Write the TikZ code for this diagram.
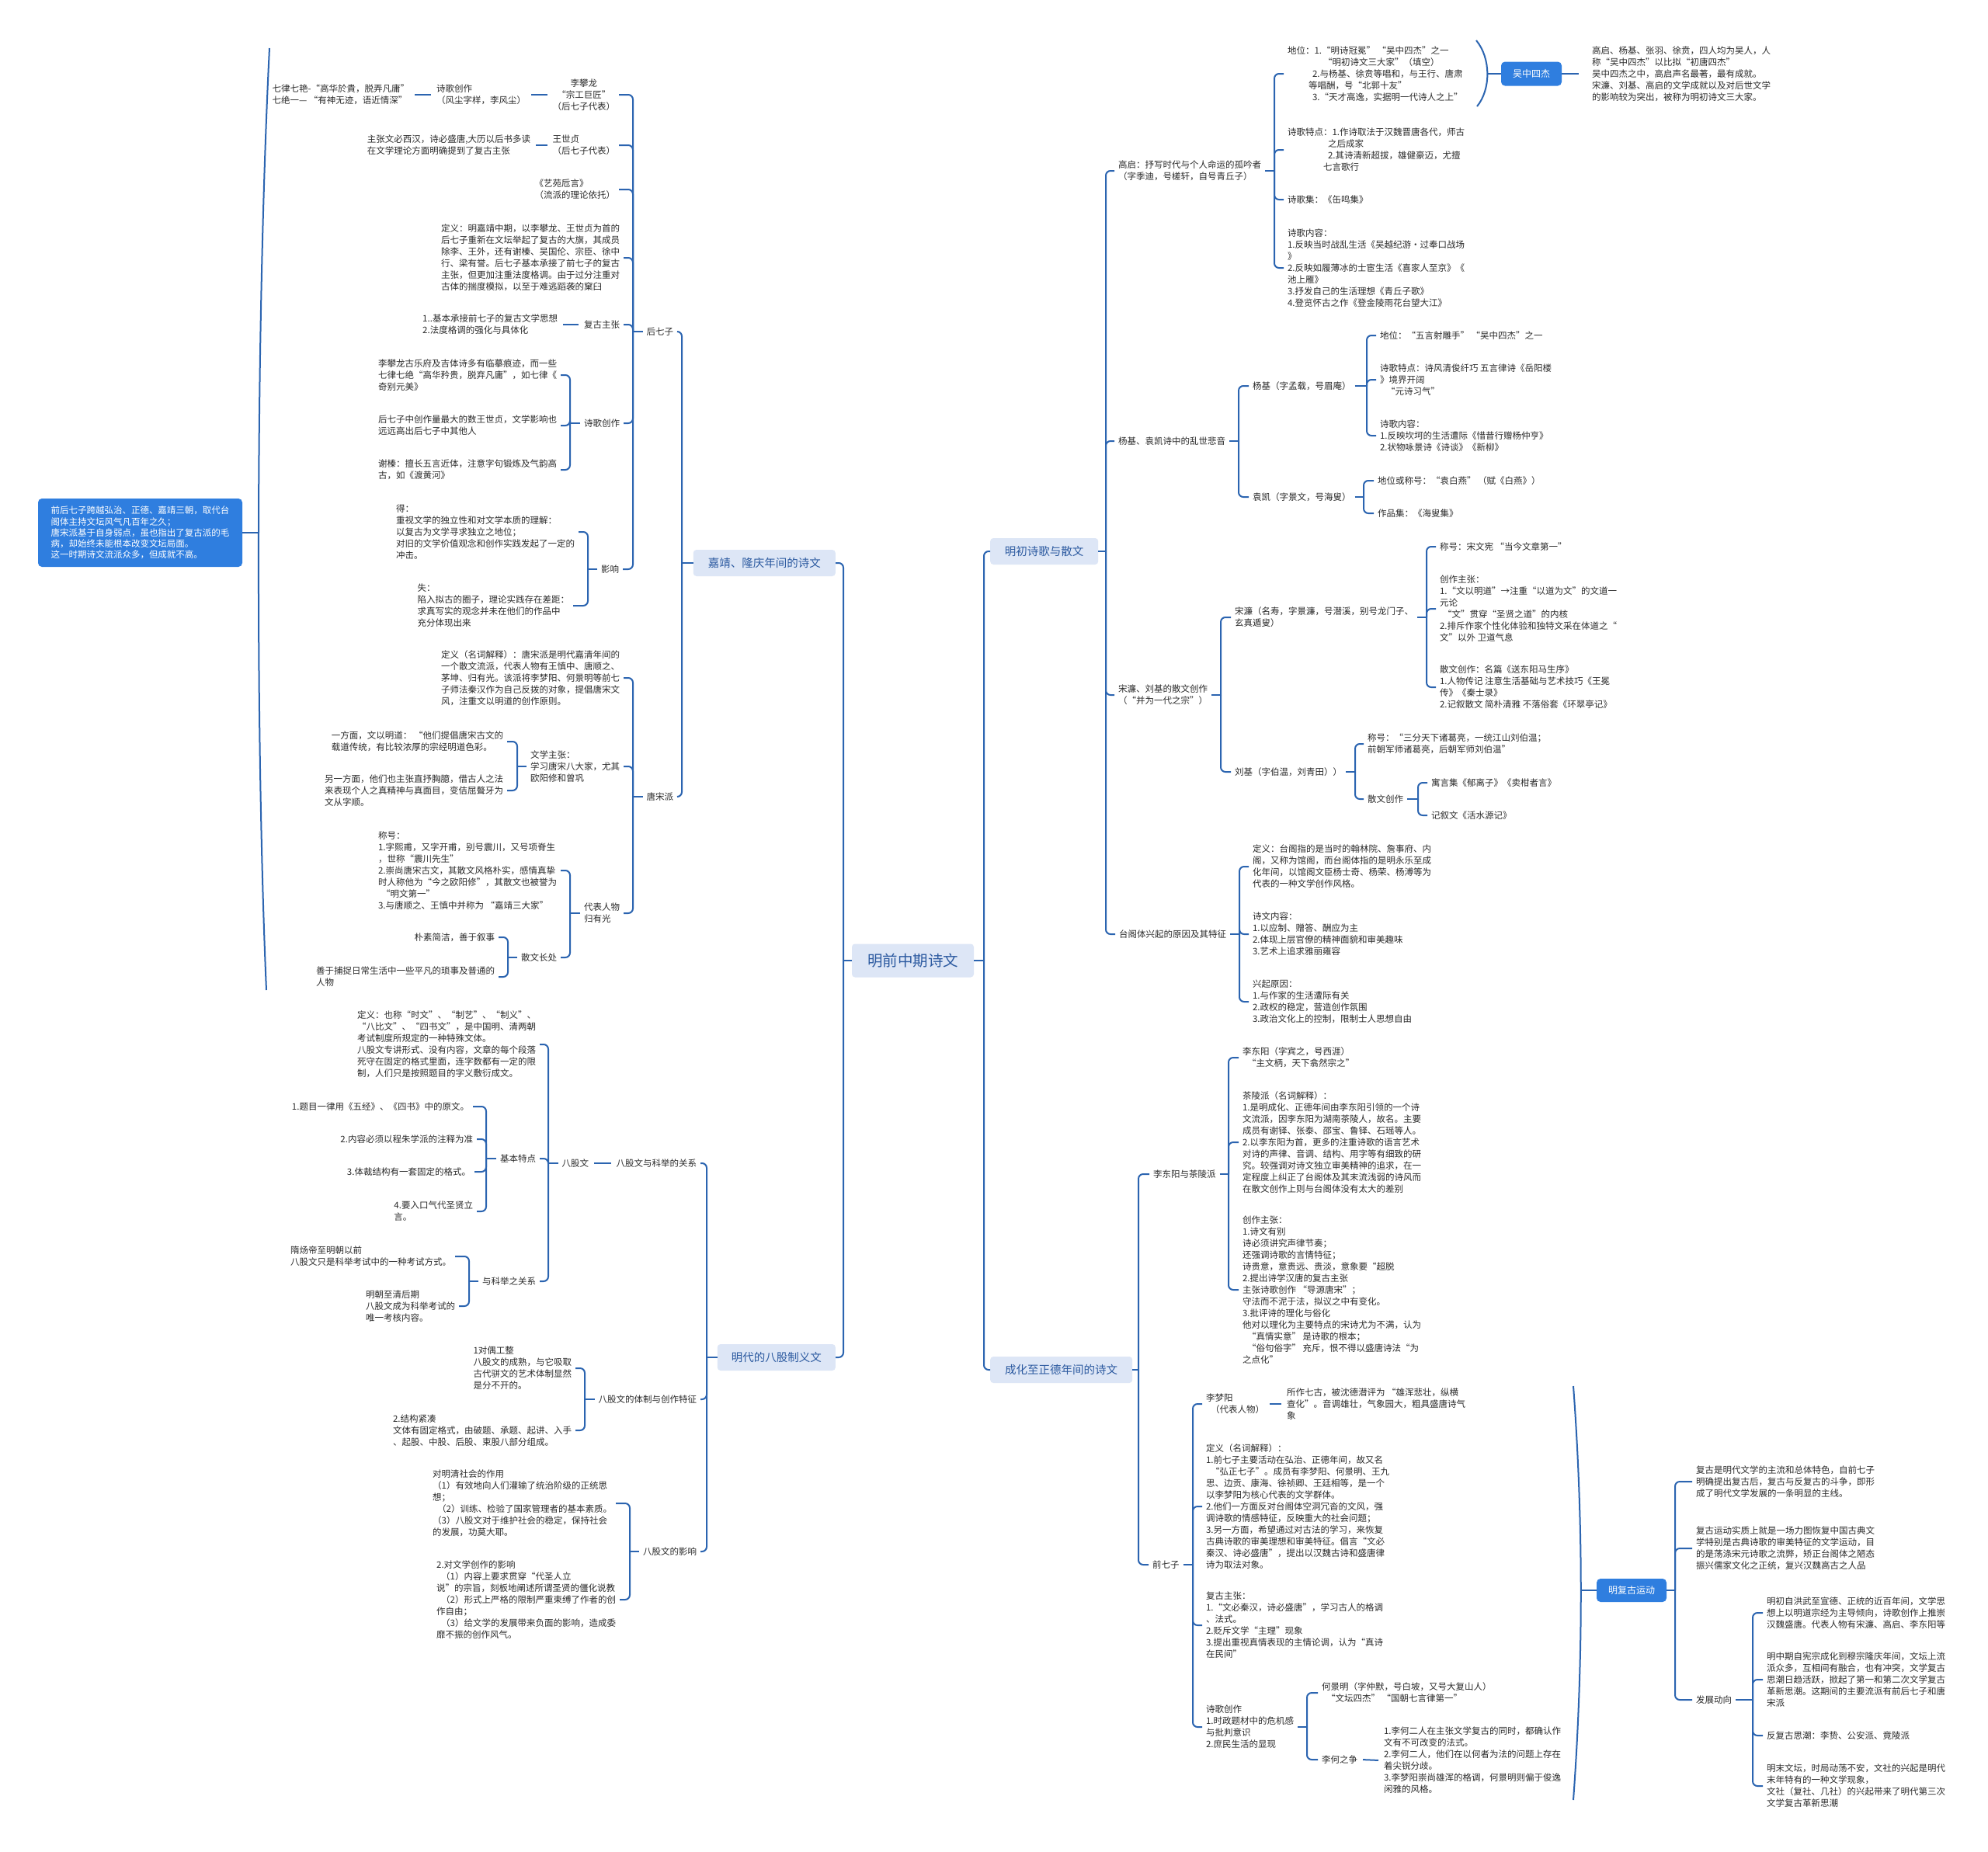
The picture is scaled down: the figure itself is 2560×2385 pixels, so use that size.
\documentclass[tikz,border=0pt]{standalone}
\usepackage{fontspec}
\setmainfont{Noto Sans CJK SC}
\newcommand{\ftx}{\fontsize{11.5}{15}\selectfont}
\definecolor{lc}{HTML}{2B64B0}
\definecolor{tc}{HTML}{2A2A2A}
\definecolor{lfill}{HTML}{DDE6F6}
\definecolor{ltext}{HTML}{2C5AA0}
\definecolor{sfill}{HTML}{2F7EDF}
\tikzset{
 conn/.style={draw=lc, line width=2pt},
 link/.style={conn, shorten <=2pt, shorten >=2pt},
 tx/.style={font=\ftx, text=tc, inner sep=0pt, outer xsep=5pt, outer ysep=0pt, align=left},
 txc/.style={tx, align=center},
 lone/.style={fill=lfill, rounded corners=4pt, text=ltext, font=\fontsize{14.5}{17}\selectfont, inner sep=0pt, minimum height=34pt},
 sbox/.style={fill=sfill, rounded corners=5pt, text=white, font=\fontsize{12}{15}\selectfont, inner sep=0pt},
}
\newcommand{\brL}[3]{%
  \coordinate (tmpS) at (#2,0);
  \draw[conn] (#1.west) -- (#1.west -| tmpS);
  \foreach \cn in {#3}{\draw[conn,rounded corners=6pt] (#1.west -| tmpS) |- (\cn.east);}%
}
\newcommand{\brR}[3]{%
  \coordinate (tmpS) at (#2,0);
  \draw[conn] (#1.east) -- (#1.east -| tmpS);
  \foreach \cn in {#3}{\draw[conn,rounded corners=6pt] (#1.east -| tmpS) |- (\cn.west);}%
}
\begin{document}
\begin{tikzpicture}[x=1pt,y=-1pt]
\useasboundingbox (0,0) rectangle (2560,2385);
\fill[white] (0,0) rectangle (2560,2385);
% ---------- centre and level one
\node[lone, minimum width=157pt, minimum height=43pt, font=\fontsize{19.5}{22}\selectfont] (C) at (1175.5,1237) {明前中期诗文};
\node[lone, anchor=east, minimum width=183pt] (LA) at (1076,725) {嘉靖、隆庆年间的诗文};
\node[lone, anchor=east, minimum width=152pt] (LB) at (1076,1748) {明代的八股制义文};
\node[lone, anchor=west, minimum width=139pt] (RA) at (1275,710) {明初诗歌与散文};
\node[lone, anchor=west, minimum width=183pt] (RB) at (1275,1764) {成化至正德年间的诗文};
\brL{C}{1086}{LA,LB}
\brR{C}{1267}{RA,RB}
% ---------- left A
\node[tx,anchor=east] (HQZ) at (872,427) {后七子};
\node[tx,anchor=east] (TSP) at (872,1026) {唐宋派};
\brL{LA}{878}{HQZ,TSP}
\node[txc,anchor=east] (H1) at (797,122) {李攀龙\\“宗工巨匠”\\（后七子代表）};
\node[tx,anchor=east] (H1a) at (682,122) {诗歌创作\\（风尘字样，李风尘）};
\node[tx,anchor=east] (H1b) at (532,122) {七律七艳-“高华於貴，脱弄凡庸”\\七绝一— “有神无迹，语近情深”};
\draw[link] (H1a.east) -- (H1.west);
\draw[link] (H1b.east) -- (H1a.west);
\node[tx,anchor=east] (H2) at (797,187) {王世贞\\（后七子代表）};
\node[tx,anchor=east] (H2a) at (688,187) {主张文必西汉，诗必盛唐,大历以后书多读\\在文学理论方面明确提到了复古主张};
\draw[link] (H2a.east) -- (H2.west);
\node[tx,anchor=east] (H3) at (797,244) {《艺苑卮言》\\（流派的理论依托）};
\node[tx,anchor=east] (H4) at (803,332) {定义：明嘉靖中期，以李攀龙、王世贞为首的\\后七子重新在文坛举起了复古的大旗，其成员\\除李、王外，还有谢榛、吴国伦、宗臣、徐中\\行、梁有誉。后七子基本承接了前七子的复古\\主张，但更加注重法度格调。由于过分注重对\\古体的揣度模拟，以至于难逃蹈袭的窠臼};
\node[tx,anchor=east] (H5) at (803,418) {复古主张};
\node[tx,anchor=east] (H5a) at (723,418) {1..基本承接前七子的复古文学思想\\2.法度格调的强化与具体化};
\draw[link] (H5a.east) -- (H5.west);
\node[tx,anchor=east] (H6) at (803,545) {诗歌创作};
\node[tx,anchor=east] (H6a) at (722,483) {李攀龙古乐府及吉体诗多有临摹痕迹，而一些\\七律七绝“高华矜贵，脱弃凡庸”，如七律《\\奇别元美》};
\node[tx,anchor=east] (H6b) at (722,548) {后七子中创作量最大的数王世贞，文学影响也\\远远高出后七子中其他人};
\node[tx,anchor=east] (H6c) at (722,605) {谢榛：擅长五言近体，注意字句锻炼及气韵高\\古，如《渡黄河》};
\brL{H6}{734}{H6a,H6b,H6c}
\node[tx,anchor=east] (H7) at (802,733) {影响};
\node[tx,anchor=east] (H7a) at (745,685) {得：\\重视文学的独立性和对文学本质的理解：\\以复古为文学寻求独立之地位；\\对旧的文学价值观念和创作实践发起了一定的\\冲击。};
\node[tx,anchor=east] (H7b) at (738,780) {失：\\陷入拟古的圈子，理论实践存在差距：\\求真写实的观念并未在他们的作品中\\充分体现出来};
\brL{H7}{757}{H7a,H7b}
\brL{HQZ}{815}{H1,H2,H3,H4,H5,H6,H7}
% 唐宋派
\node[tx,anchor=east] (T1) at (803,873) {定义（名词解释）：唐宋派是明代嘉清年间的\\一个散文流派，代表人物有王慎中、唐顺之、\\茅坤、归有光。该派将李梦阳、何景明等前七\\子师法秦汉作为自己反拨的对象，提倡唐宋文\\风，注重文以明道的创作原则。};
\node[tx,anchor=east] (T2) at (803,987) {文学主张：\\学习唐宋八大家，尤其\\欧阳修和曾巩};
\node[tx,anchor=east] (T2a) at (653,955) {一方面，文以明道： “他们提倡唐宋古文的\\载道传统，有比较浓厚的宗经明道色彩。};
\node[tx,anchor=east] (T2b) at (653,1018) {另一方面，他们也主张直抒胸臆，借古人之法\\来表现个人之真精神与真面目，变佶屈聱牙为\\文从字顺。};
\brL{T2}{666}{T2a,T2b}
\node[tx,anchor=east] (T3) at (803,1176) {代表人物\\归有光};
\node[tx,anchor=east] (T3a) at (722,1121) {称号：\\1.字熙甫，又字开甫，别号震川，又号项脊生\\，世称“震川先生”\\2.崇尚唐宋古文，其散文风格朴实，感情真挚\\时人称他为“今之欧阳修”，其散文也被誉为\\\hspace*{4pt}“明文第一”\\3.与唐顺之、王慎中并称为 “嘉靖三大家”};
\node[tx,anchor=east] (T3b) at (722,1233) {散文长处};
\node[tx,anchor=east] (T3b1) at (642,1207) {朴素简洁，善于叙事};
\node[tx,anchor=east] (T3b2) at (642,1258) {善于捕捉日常生活中一些平凡的琐事及普通的\\人物};
\brL{T3b}{654}{T3b1,T3b2}
\brL{T3}{734}{T3a,T3b}
\brL{TSP}{815}{T1,T2,T3}
% summary left
\node[sbox, minimum width=263pt, minimum height=88pt, align=left, font=\fontsize{11.5}{14.2}\selectfont] (SUM) at (180.5,686) {前后七子跨越弘治、正德、嘉靖三朝，取代台\\阁体主持文坛风气凡百年之久；\\唐宋派基于自身弱点，虽也指出了复古派的毛\\病，却始终未能根本改变文坛局面。\\这一时期诗文流派众多，但成就不高。};
\coordinate (lbT) at (347,62);
\coordinate (lbB) at (343,1275);
\coordinate (lbM) at (333,686);
\draw[conn] (lbT) .. controls (329,425) and (329,955) .. (lbB);
\draw[conn] (SUM.east) -- (lbM);
% ---------- left B
\node[tx,anchor=east] (B1) at (902,1498) {八股文与科举的关系};
\node[tx,anchor=east] (B1a) at (763,1498) {八股文};
\draw[link] (B1a.east) -- (B1.west);
\node[tx,anchor=east] (B11) at (695,1345) {定义：也称“时文”、“制艺”、“制义”、\\“八比文”、“四书文”，是中国明、清两朝\\考试制度所规定的一种特殊文体。\\八股文专讲形式、没有内容，文章的每个段落\\死守在固定的格式里面，连字数都有一定的限\\制，人们只是按照题目的字义敷衍成文。};
\node[tx,anchor=east] (B12) at (695,1492) {基本特点};
\node[tx,anchor=east] (B121) at (609,1425) {1.题目一律用《五经》、《四书》中的原文。};
\node[tx,anchor=east] (B122) at (614,1467) {2.内容必须以程朱学派的注释为准};
\node[tx,anchor=east] (B123) at (611,1509) {3.体裁结构有一套固定的格式。};
\node[tx,anchor=east] (B124) at (614,1560) {4.要入口气代圣贤立\\言。};
\brL{B12}{626}{B121,B122,B123,B124}
\node[tx,anchor=east] (B13) at (695,1650) {与科举之关系};
\node[tx,anchor=east] (B131) at (586,1618) {隋炀帝至明朝以前\\八股文只是科举考试中的一种考试方式。};
\node[tx,anchor=east] (B132) at (591,1682) {明朝至清后期\\八股文成为科举考试的\\唯一考核内容。};
\brL{B13}{604}{B131,B132}
\brL{B1a}{706}{B11,B12,B13}
\node[tx,anchor=east] (B2) at (902,1802) {八股文的体制与创作特征};
\node[tx,anchor=east] (B21) at (741,1762) {1对偶工整\\八股文的成熟，与它吸取\\古代骈文的艺术体制显然\\是分不开的。};
\node[tx,anchor=east] (B22) at (741,1842) {2.结构紧凑\\文体有固定格式，由破题、承题、起讲、入手\\、起股、中股、后股、束股八部分组成。};
\brL{B2}{753}{B21,B22}
\node[tx,anchor=east] (B3) at (902,1998) {八股文的影响};
\node[tx,anchor=east] (B31) at (793,1936) {对明清社会的作用\\（1）有效地向人们灌输了统治阶级的正统思\\想；\\\hspace*{6pt}（2）训练、检验了国家管理者的基本素质。\\（3）八股文对于维护社会的稳定，保持社会\\的发展，功莫大耶。};
\node[tx,anchor=east] (B32) at (798,2060) {2.对文学创作的影响\\\hspace*{6pt}（1）内容上要求贯穿“代圣人立\\说”的宗旨，刻板地阐述所谓圣贤的僵化说教\\\hspace*{6pt}（2）形式上严格的限制严重束缚了作者的创\\作自由；\\\hspace*{6pt}（3）给文学的发展带来负面的影响，造成委\\靡不振的创作风气。};
\brL{B3}{811}{B31,B32}
\brL{LB}{910}{B1,B2,B3}
% ---------- right A
\node[tx,anchor=west] (G) at (1435,220) {高启：抒写时代与个人命运的孤吟者\\（字季迪，号槎轩，自号青丘子）};
\node[tx,anchor=west] (G1) at (1653,95) {地位：1.“明诗冠冕” “吴中四杰”之一\\\hspace*{46pt}“明初诗文三大家”（填空）\\\hspace*{32pt}2.与杨基、徐贲等唱和，与王行、唐肃\\\hspace*{27pt}等唱酬，号“北郭十友”\\\hspace*{32pt}3.“天才高逸，实据明一代诗人之上”};
\node[tx,anchor=west] (G2) at (1653,193) {诗歌特点：1.作诗取法于汉魏晋唐各代，师古\\\hspace*{52pt}之后成家\\\hspace*{52pt}2.其诗清新超拔，雄健豪迈，尤擅\\\hspace*{46pt}七言歌行};
\node[tx,anchor=west] (G3) at (1653,257) {诗歌集：《缶鸣集》};
\node[tx,anchor=west] (G4) at (1653,345) {诗歌内容：\\1.反映当时战乱生活《吴越纪游·过奉口战场\\》\\2.反映如履薄冰的士宦生活《喜家人至京》《\\池上雁》\\3.抒发自己的生活理想《青丘子歌》\\4.登览怀古之作《登金陵雨花台望大江》};
\brR{G}{1641}{G1,G2,G3,G4}
\node[sbox, minimum width=78pt, minimum height=31pt] (WZ) at (1972,95) {吴中四杰};
\coordinate (dwT) at (1901,52);
\coordinate (dwB) at (1902,137);
\coordinate (dwM) at (1915,95);
\draw[conn] (dwT) .. controls (1920,75) and (1920,115) .. (dwB);
\draw[conn] (dwM) -- (WZ.west);
\node[tx,anchor=west] (WZT) at (2045,95) {高启、杨基、张羽、徐贲，四人均为吴人，人\\称“吴中四杰”以比拟“初唐四杰”\\吴中四杰之中，高启声名最著，最有成就。\\宋濂、刘基、高启的文学成就以及对后世文学\\的影响较为突出，被称为明初诗文三大家。};
\draw[conn] (WZ.east) -- ([xshift=-12pt]WZT.west);
\node[tx,anchor=west] (Y) at (1435,568) {杨基、袁凯诗中的乱世悲音};
\node[tx,anchor=west] (Y1) at (1608,497) {杨基（字孟载，号眉庵）};
\node[tx,anchor=west] (Y11) at (1772,432) {地位：“五言射雕手” “吴中四杰”之一};
\node[tx,anchor=west] (Y12) at (1772,489) {诗歌特点：诗风清俊纤巧 五言律诗《岳阳楼\\》境界开阔\\\hspace*{8pt}“元诗习气”};
\node[tx,anchor=west] (Y13) at (1772,561) {诗歌内容：\\1.反映坎坷的生活遭际《惜昔行赠杨仲亨》\\2.状物咏景诗《诗谈》《新柳》};
\brR{Y1}{1760}{Y11,Y12,Y13}
\node[tx,anchor=west] (Y2) at (1608,640) {袁凯（字景文，号海叟）};
\node[tx,anchor=west] (Y21) at (1769,619) {地位或称号：“袁白燕” （赋《白燕》）};
\node[tx,anchor=west] (Y22) at (1769,661) {作品集：《海叟集》};
\brR{Y2}{1756}{Y21,Y22}
\brR{Y}{1595}{Y1,Y2}
\node[txc,anchor=west] (S) at (1435,895) {宋濂、刘基的散文创作\\（“并为一代之宗”）};
\node[tx,anchor=west] (S1) at (1585,795) {宋濂（名寿，字景濂，号潜溪，别号龙门子、\\玄真遁叟）};
\node[tx,anchor=west] (S11) at (1849,704) {称号：宋文宪 “当今文章第一”};
\node[tx,anchor=west] (S12) at (1849,784) {创作主张：\\1.“文以明道”→注重“以道为文”的文道一\\元论\\\hspace*{4pt}“文”贯穿“圣贤之道”的内核\\2.排斥作家个性化体验和独特文采在体道之“\\文”以外 卫道气息};
\node[tx,anchor=west] (S13) at (1849,885) {散文创作：名篇《送东阳马生序》\\1.人物传记 注意生活基础与艺术技巧《王冕\\传》《秦士录》\\2.记叙散文 简朴清雅 不落俗套《环翠亭记》};
\brR{S1}{1837}{S11,S12,S13}
\node[tx,anchor=west] (S2) at (1585,994) {刘基（字伯温，刘青田））};
\node[tx,anchor=west] (S21) at (1756,958) {称号：“三分天下诸葛亮，一统江山刘伯温；\\前朝军师诸葛亮，后朝军师刘伯温”};
\node[tx,anchor=west] (S22) at (1756,1029) {散文创作};
\node[tx,anchor=west] (S221) at (1838,1008) {寓言集《郁离子》《卖柑者言》};
\node[tx,anchor=west] (S222) at (1838,1050) {记叙文《活水源记》};
\brR{S22}{1826}{S221,S222}
\brR{S2}{1745}{S21,S22}
\brR{S}{1572}{S1,S2}
\node[tx,anchor=west] (TG) at (1436,1203) {台阁体兴起的原因及其特征};
\node[tx,anchor=west] (TG1) at (1608,1116) {定义：台阁指的是当时的翰林院、詹事府、内\\阁，又称为馆阁，而台阁体指的是明永乐至成\\化年间，以馆阁文臣杨士奇、杨荣、杨溥等为\\代表的一种文学创作风格。};
\node[tx,anchor=west] (TG2) at (1608,1203) {诗文内容：\\1.以应制、赠答、酬应为主\\2.体现上层官僚的精神面貌和审美趣味\\3.艺术上追求雅丽雍容};
\node[tx,anchor=west] (TG3) at (1608,1290) {兴起原因：\\1.与作家的生活遭际有关\\2.政权的稳定，营造创作氛围\\3.政治文化上的控制，限制士人思想自由};
\brR{TG}{1596}{TG1,TG2,TG3}
\brR{RA}{1424}{G,Y,S,TG}
% ---------- right B
\node[tx,anchor=west] (CL) at (1480,1512) {李东阳与茶陵派};
\node[tx,anchor=west] (CL1) at (1595,1362) {李东阳（字宾之，号西涯）\\\hspace*{6pt}“主文柄，天下翕然宗之”};
\node[tx,anchor=west] (CL2) at (1595,1471) {茶陵派（名词解释）：\\1.是明成化、正德年间由李东阳引领的一个诗\\文流派，因李东阳为湖南茶陵人，故名。主要\\成员有谢铎、张泰、邵宝、鲁铎、石瑶等人。\\2.以李东阳为首，更多的注重诗歌的语言艺术\\对诗的声律、音调、结构、用字等有细致的研\\究。较强调对诗文独立审美精神的追求，在一\\定程度上纠正了台阁体及其末流浅弱的诗风而\\在散文创作上则与台阁体没有太大的差别};
\node[tx,anchor=west] (CL3) at (1595,1661) {创作主张：\\1.诗文有别\\诗必须讲究声律节奏；\\还强调诗歌的言情特征；\\诗贵意，意贵远、贵淡，意象要“超脱\\2.提出诗学汉唐的复古主张\\主张诗歌创作 “导源唐宋”；\\守法而不泥于法，拟议之中有变化。\\3.批评诗的理化与俗化\\他对以理化为主要特点的宋诗尤为不满，认为\\\hspace*{6pt}“真情实意” 是诗歌的根本；\\\hspace*{6pt}“俗句俗字” 充斥，恨不得以盛唐诗法“为\\之点化”};
\brR{CL}{1582}{CL1,CL2,CL3}
\node[tx,anchor=west] (QZ) at (1479,2015) {前七子};
\node[tx,anchor=west] (Q1) at (1548,1808) {李梦阳\\\hspace*{6pt}（代表人物）};
\node[tx,anchor=west] (Q1t) at (1652,1808) {所作七古，被沈德潜评为 “雄浑悲壮，纵横\\查化”。音调雄壮，气象园大，粗具盛唐诗气\\象};
\draw[link] (Q1.east) -- (Q1t.west);
\node[tx,anchor=west] (Q2) at (1548,1940) {定义（名词解释）：\\1.前七子主要活动在弘治、正德年间，故又名\\\hspace*{6pt}“弘正七子”。成员有李梦阳、何景明、王九\\思、边贡、康海、徐祯卿、王廷相等，是一个\\以李梦阳为核心代表的文学群体。\\2.他们一方面反对台阁体空洞冗沓的文风，强\\调诗歌的情感特征，反映重大的社会问题；\\3.另一方面，希望通过对古法的学习，来恢复\\古典诗歌的审美理想和审美特征。倡言“文必\\秦汉、诗必盛唐”，提出以汉魏古诗和盛唐律\\诗为取法对象。};
\node[tx,anchor=west] (Q3) at (1548,2093) {复古主张：\\1.“文必秦汉，诗必盛唐”，学习古人的格调\\、法式。\\2.贬斥文学“主理”现象\\3.提出重视真情表现的主情论调，认为“真诗\\在民间”};
\node[tx,anchor=west] (Q4) at (1548,2224) {诗歌创作\\1.时政题材中的危机感\\与批判意识\\2.庶民生活的显现};
\node[tx,anchor=west] (Q41) at (1697,2180) {何景明（字仲默，号白坡，又号大复山人）\\\hspace*{6pt}“文坛四杰” “国朝七言律第一”};
\node[tx,anchor=west] (Q42) at (1697,2266) {李何之争};
\node[tx,anchor=west] (Q42t) at (1777,2267) {1.李何二人在主张文学复古的同时，都确认作\\文有不可改变的法式。\\2.李何二人，他们在以何者为法的问题上存在\\着尖锐分歧。\\3.李梦阳崇尚雄浑的格调，何景明则偏于俊逸\\闲雅的风格。};
\draw[link] (Q42.east) -- (Q42t.west);
\brR{Q4}{1683}{Q41,Q42}
\brR{QZ}{1536}{Q1,Q2,Q3,Q4}
\brR{RB}{1466}{CL,QZ}
% summary right
\coordinate (rbT) at (2026,1785);
\coordinate (rbB) at (2026,2318);
\coordinate (rbM) at (2036,2048);
\draw[conn] (rbT) .. controls (2039,1960) and (2039,2140) .. (rbB);
\node[sbox, minimum width=90pt, minimum height=30pt] (FG) at (2101,2048) {明复古运动};
\draw[conn] (rbM) -- (FG.west);
\node[tx,anchor=west] (F1) at (2179,1908) {复古是明代文学的主流和总体特色，自前七子\\明确提出复古后，复古与反复古的斗争，即形\\成了明代文学发展的一条明显的主线。};
\node[tx,anchor=west] (F2) at (2179,1994) {复古运动实质上就是一场力图恢复中国古典文\\学特别是古典诗歌的审美特征的文学运动，目\\的是荡涤宋元诗歌之流弊，矫正台阁体之陋态\\振兴儒家文化之正统，复兴汉魏高古之人品};
\node[tx,anchor=west] (F3) at (2179,2189) {发展动向};
\node[tx,anchor=west] (F31) at (2270,2077) {明初自洪武至宣德、正统的近百年间，文学思\\想上以明道宗经为主导倾向，诗歌创作上推崇\\汉魏盛唐。代表人物有宋濂、高启、李东阳等};
\node[tx,anchor=west] (F32) at (2270,2163) {明中期自宪宗成化到穆宗隆庆年间，文坛上流\\派众多，互相间有融合，也有冲突，文学复古\\思潮日趋活跃，掀起了第一和第二次文学复古\\革新思潮。这期间的主要流派有前后七子和唐\\宋派};
\node[tx,anchor=west] (F33) at (2270,2235) {反复古思潮：李贽、公安派、竟陵派};
\node[tx,anchor=west] (F34) at (2270,2300) {明末文坛，时局动荡不安，文社的兴起是明代\\末年特有的一种文学现象，\\文社（复社、几社）的兴起带来了明代第三次\\文学复古革新思潮};
\brR{F3}{2257}{F31,F32,F33,F34}
\brR{FG}{2157}{F1,F2,F3}
\end{tikzpicture}
\end{document}
